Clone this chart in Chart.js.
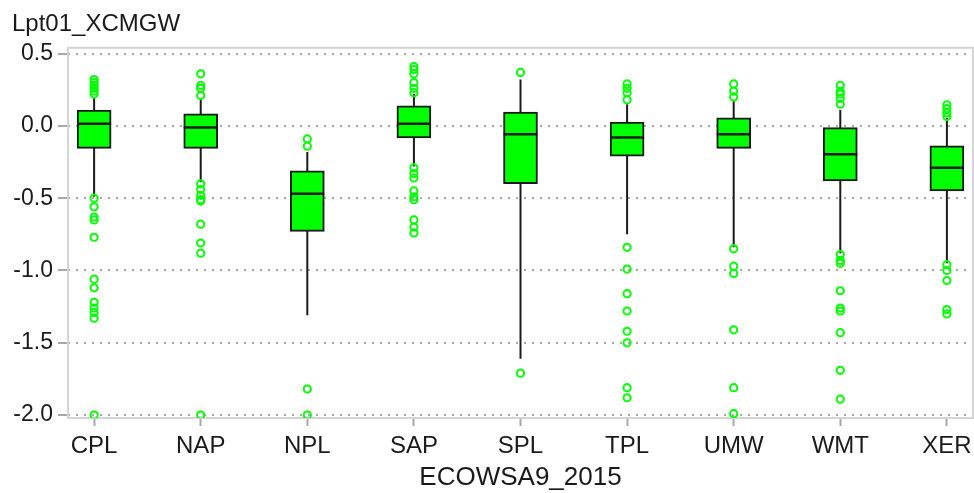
<!DOCTYPE html>
<html>
<head>
<meta charset="utf-8">
<title>Lpt01_XCMGW</title>
<script src="https://cdn.jsdelivr.net/npm/chart.js@4.4.1/dist/chart.umd.min.js"></script>
<style>
  html, body { margin: 0; padding: 0; background: #ffffff; }
  #boxChart { display: block; }
</style>
</head>
<body>
<canvas id="boxChart" width="974" height="493"></canvas>
<script>
// data
const categories = ["CPL", "NAP", "NPL", "SAP", "SPL", "TPL", "UMW", "WMT", "XER"];
const q1Values = [-0.155, -0.155, -0.73, -0.083, -0.40, -0.21, -0.155, -0.38, -0.45];
const q3Values = [0.11, 0.083, -0.31, 0.138, 0.096, 0.026, 0.055, -0.012, -0.138];
const medianValues = [0.014, -0.012, -0.47, 0.014, -0.057, -0.08, -0.057, -0.196, -0.29];
const whiskerLow = [-0.49, -0.39, -1.31, -0.28, -1.61, -0.75, -0.84, -0.88, -0.95];
const whiskerHigh = [0.20, 0.18, -0.18, 0.22, 0.32, 0.15, 0.17, 0.11, 0.055];
const outlierValues = [
    [0.32, 0.30, 0.28, 0.26, 0.24, 0.22, -0.50, -0.56, -0.63, -0.65, -0.77, -1.06, -1.12, -1.22, -1.26, -1.29, -1.33, -2.0],
    [0.36, 0.28, 0.26, 0.21, -0.40, -0.44, -0.48, -0.51, -0.52, -0.68, -0.81, -0.88, -2.0],
    [-0.09, -0.14, -1.82, -2.0],
    [0.41, 0.39, 0.36, 0.30, 0.26, 0.23, -0.29, -0.33, -0.36, -0.45, -0.49, -0.51, -0.65, -0.70, -0.74],
    [0.37, -1.71],
    [0.29, 0.26, 0.23, 0.18, -0.84, -0.99, -1.16, -1.28, -1.42, -1.50, -1.81, -1.88],
    [0.29, 0.24, 0.20, -0.85, -0.97, -1.02, -1.41, -1.81, -1.99],
    [0.28, 0.24, 0.22, 0.19, 0.15, -0.89, -0.93, -0.95, -1.14, -1.26, -1.28, -1.43, -1.69, -1.89],
    [0.145, 0.12, 0.09, 0.065, -0.96, -1.0, -1.07, -1.27, -1.30]
];
const yTicks = [-2.0, -1.5, -1.0, -0.5, 0.0, 0.5];

const FONT = "'Liberation Sans', Arial, sans-serif";
const TEXT = "#1a1a1a";
const GREEN = "#00ff00";
const FRAME = "#d4d4d4";
const GRID = "#a8a8a8";

// light grey frame round the plot area
const framePlugin = {
    id: "frame",
    beforeDatasetsDraw(chart) {
        const a = chart.chartArea;
        const ctx = chart.ctx;
        ctx.save();
        ctx.strokeStyle = FRAME;
        ctx.lineWidth = 2;
        ctx.strokeRect(a.left, a.top, a.right - a.left, a.bottom - a.top);
        ctx.restore();
    }
};

const boxData = categories.map((c, i) => ({ x: i, y: [q1Values[i], q3Values[i]] }));
const medianData = categories.map((c, i) => ({ x: i, y: medianValues[i] }));
const whiskerData = [];
categories.forEach((c, i) => {
    whiskerData.push({ x: i, y: whiskerLow[i] });
    whiskerData.push({ x: i, y: whiskerHigh[i] });
    whiskerData.push({ x: i, y: null });
});
const outlierData = [];
outlierValues.forEach((list, i) => list.forEach(v => outlierData.push({ x: i, y: v })));

new Chart(document.getElementById("boxChart"), {
    type: "bar",
    data: {
        datasets: [
            {
                type: "scatter",
                data: outlierData,
                pointStyle: "circle",
                pointRadius: 3.6,
                pointBorderWidth: 2,
                borderColor: GREEN,
                backgroundColor: "rgba(0,0,0,0)",
                order: 0
            },
            {
                type: "scatter",
                data: medianData,
                pointStyle: "line",
                pointRadius: 17,
                pointBorderWidth: 2.5,
                borderColor: TEXT,
                order: 1
            },
            {
                type: "bar",
                data: boxData,
                backgroundColor: GREEN,
                borderColor: TEXT,
                borderWidth: 2,
                borderSkipped: false,
                barThickness: 34,
                order: 2
            },
            {
                type: "line",
                data: whiskerData,
                borderColor: TEXT,
                borderWidth: 2,
                pointRadius: 0,
                spanGaps: false,
                order: 3
            }
        ]
    },
    options: {
        responsive: false,
        animation: false,
        devicePixelRatio: 1,
        layout: { autoPadding: false, padding: { left: 12, right: 1, top: 0, bottom: 0 } },
        plugins: {
            legend: { display: false },
            tooltip: { enabled: false },
            title: {
                display: true,
                text: "Lpt01_XCMGW",
                align: "start",
                color: TEXT,
                font: { family: FONT, size: 24, weight: "normal" },
                padding: { top: 10, bottom: 9 }
            }
        },
        scales: {
            x: {
                type: "linear",
                min: -0.245,
                max: 8.245,
                offset: false,
                afterBuildTicks: s => { s.ticks = categories.map((c, i) => ({ value: i })); },
                afterFit: s => { s.height = 75; s.paddingLeft = 0; s.paddingRight = 0; },
                ticks: {
                    callback: v => categories[v],
                    color: TEXT,
                    font: { family: FONT, size: 24 },
                    padding: 6,
                    maxRotation: 0,
                    autoSkip: false
                },
                grid: {
                    offset: false,
                    drawOnChartArea: false,
                    drawTicks: true,
                    tickLength: 8,
                    tickColor: GRID,
                    tickWidth: 2
                },
                border: { display: false },
                title: {
                    display: true,
                    text: "ECOWSA9_2015",
                    color: TEXT,
                    font: { family: FONT, size: 26 },
                    padding: { top: 0, bottom: 0 }
                }
            },
            y: {
                type: "linear",
                min: -2.02,
                max: 0.54,
                afterBuildTicks: s => { s.ticks = yTicks.map(v => ({ value: v })); },
                afterFit: s => { s.width = 56; },
                ticks: {
                    callback: v => v.toFixed(1),
                    color: TEXT,
                    font: { family: FONT, size: 23 },
                    padding: 5
                },
                grid: {
                    color: GRID,
                    lineWidth: 2,
                    drawTicks: true,
                    tickLength: 10,
                    tickColor: GRID,
                    tickWidth: 2,
                    tickBorderDash: []
                },
                border: { display: false, dash: [2, 6] }
            }
        }
    },
    plugins: [framePlugin]
});
</script>
</body>
</html>
